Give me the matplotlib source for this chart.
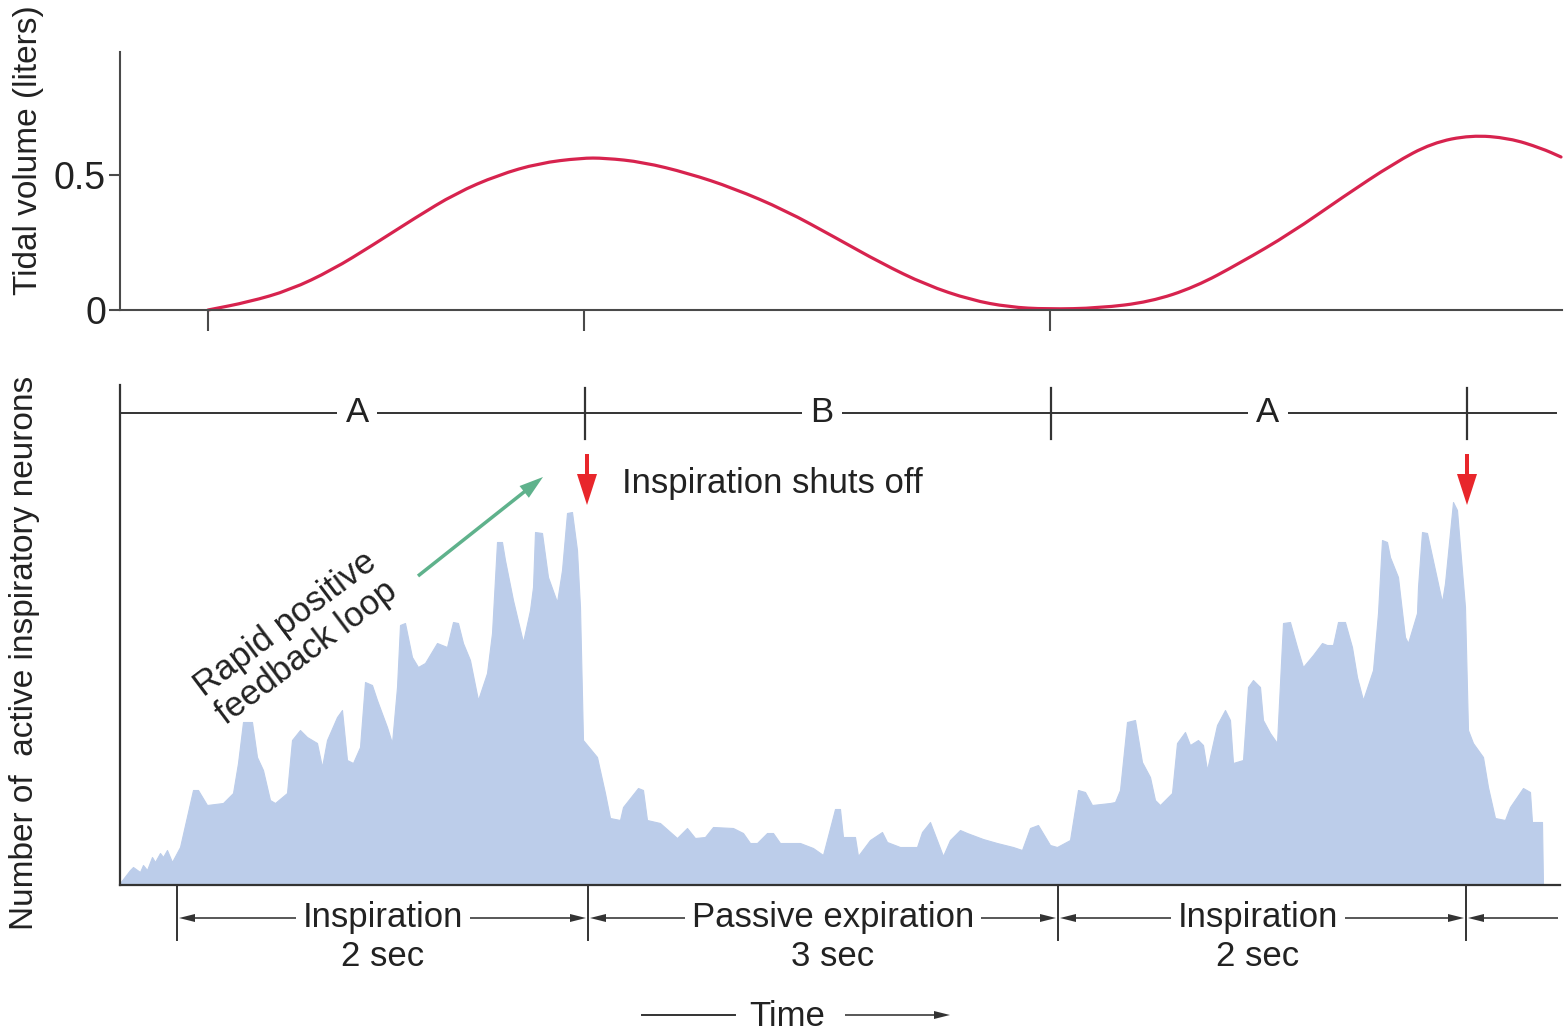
import matplotlib
matplotlib.use('Agg')
import matplotlib.pyplot as plt
from matplotlib.path import Path
from matplotlib.patches import PathPatch

plt.rcParams['font.family'] = ['Liberation Sans', 'DejaVu Sans']

# tidal volume curve (x in arbitrary time units, y in liters)
vol_x = [208, 249, 290, 332, 373, 415, 456, 498, 539, 581, 605, 643, 688, 733, 785,
         836, 881, 926, 971, 1009, 1047, 1099, 1150, 1195, 1240, 1291, 1343, 1394,
         1432, 1471, 1509, 1541, 1561]
vol_y = [0.0, 0.030, 0.074, 0.148, 0.241, 0.341, 0.433, 0.500, 0.544, 0.563, 0.563,
         0.548, 0.507, 0.452, 0.370, 0.267, 0.174, 0.093, 0.037, 0.011, 0.003, 0.007,
         0.030, 0.085, 0.174, 0.285, 0.419, 0.544, 0.619, 0.648, 0.637, 0.600, 0.567]
vol_ticks = [0, 0.5]
vol_tick_labels = ['0', '0.5']
top_xticks = [208, 584, 1050]

# number of active inspiratory neurons (arbitrary units)
neu_x = [120, 130, 133, 140, 143, 147, 152, 155, 160, 163, 167, 172, 180, 193, 198,
         207, 223, 233, 238, 243, 252, 257, 263, 270, 275, 287, 292, 300, 307, 317,
         322, 327, 337, 342, 347, 353, 360, 365, 372, 377, 387, 392, 397, 400, 405,
         412, 418, 425, 437, 447, 453, 458, 463, 470, 478, 487, 492, 497, 502, 505,
         513, 523, 530, 533, 535, 542, 548, 557, 562, 567, 572, 577, 580, 583, 597,
         605, 610, 620, 623, 638, 643, 647, 660, 677, 687, 695, 705, 713, 733, 743,
         750, 757, 767, 773, 780, 800, 813, 823, 835, 840, 843, 855, 858, 870, 882,
         887, 900, 917, 922, 930, 943, 950, 960, 967, 983, 997, 1013, 1022, 1030,
         1038, 1050, 1057, 1070, 1078, 1085, 1092, 1110, 1115, 1120, 1127, 1135,
         1142, 1150, 1155, 1160, 1172, 1177, 1185, 1190, 1198, 1203, 1207, 1217,
         1225, 1230, 1233, 1243, 1248, 1253, 1260, 1263, 1270, 1277, 1283, 1290,
         1297, 1303, 1313, 1322, 1327, 1333, 1338, 1345, 1352, 1357, 1363, 1373,
         1378, 1382, 1387, 1390, 1398, 1405, 1408, 1417, 1418, 1422, 1427, 1442,
         1445, 1453, 1457, 1465, 1468, 1473, 1483, 1488, 1495, 1505, 1510, 1523,
         1530, 1532, 1542, 1543]
neu_y = [2, 15, 18, 13, 20, 15, 28, 23, 32, 28, 35, 23, 38, 95, 95,
         80, 82, 92, 122, 163, 163, 128, 115, 85, 82, 92, 145, 155, 148, 142,
         118, 145, 168, 175, 125, 122, 138, 203, 200, 185, 158, 142, 198, 260, 262,
         228, 218, 222, 242, 238, 263, 262, 242, 225, 185, 212, 252, 343, 343, 325,
         285, 243, 275, 298, 353, 352, 308, 283, 315, 372, 373, 335, 278, 145, 128,
         92, 67, 65, 78, 97, 95, 65, 62, 47, 57, 47, 48, 58, 57, 52,
         42, 42, 52, 52, 42, 42, 37, 30, 76, 76, 48, 48, 29, 45, 53,
         43, 38, 38, 53, 63, 29, 45, 55, 52, 46, 42, 38, 35, 57,
         60, 40, 38, 45, 95, 93, 80, 82, 83, 95, 163, 165,
         123, 108, 85, 80, 92, 142, 153, 140, 145, 140, 115, 160,
         175, 165, 122, 125, 198, 205, 198, 165, 152, 142, 262, 263,
         238, 218, 230, 242, 240, 240, 263, 263, 238, 208, 185, 215,
         272, 345, 343, 328, 308, 248, 242, 272, 298, 353, 352, 283,
         302, 383, 375, 278, 155, 142, 128, 98, 67, 65, 78, 97,
         93, 63, 63, 0]

cycle_ticks = [585, 1051, 1467]
cycle_labels = ['A', 'B', 'A']
cycle_label_x = [357, 822, 1268]
shutoff_x = [587, 1467]

phase_edges = [177, 588, 1058, 1466]
phase_names = ['Inspiration', 'Passive expiration', 'Inspiration']
phase_durations = ['2 sec', '3 sec', '2 sec']
phase_label_x = [383, 833, 1258]


def smooth_path(xs, ys):
    # quadratic bezier through midpoints, read points act as control points
    pts = list(zip(xs, ys))
    verts = [pts[0], ((pts[0][0] + pts[1][0]) / 2, (pts[0][1] + pts[1][1]) / 2)]
    codes = [Path.MOVETO, Path.LINETO]
    for i in range(1, len(pts) - 1):
        mid = ((pts[i][0] + pts[i + 1][0]) / 2, (pts[i][1] + pts[i + 1][1]) / 2)
        verts += [pts[i], mid]
        codes += [Path.CURVE3, Path.CURVE3]
    verts.append(pts[-1])
    codes.append(Path.LINETO)
    return Path(verts, codes)


W, H = 1566, 1031
fig = plt.figure(figsize=(W / 100, H / 100), dpi=100)

axis_col = '#4a4a4a'
text_col = '#222222'
fs = 25

# ---- top panel: tidal volume
ax1 = fig.add_axes([120 / W, (H - 310) / H, 1442 / W, 258 / H])
ax1.add_patch(PathPatch(smooth_path(vol_x, vol_y), fc='none', ec='#d7234e', lw=2.3,
                        capstyle='round', clip_on=False))
ax1.set_xlim(120, 1562)
ax1.set_ylim(0, 0.956)
ax1.set_yticks(vol_ticks)
ax1.set_yticklabels(vol_tick_labels)
ax1.set_xticks(top_xticks)
ax1.set_xticklabels([])
ax1.tick_params(axis='y', direction='out', length=8, width=1.5, color=axis_col,
                pad=2, labelsize=27, labelcolor=text_col)
ax1.tick_params(axis='x', direction='out', length=15, width=1.5, color=axis_col)
for s in ['top', 'right']:
    ax1.spines[s].set_visible(False)
for s in ['left', 'bottom']:
    ax1.spines[s].set_color(axis_col)
    ax1.spines[s].set_linewidth(1.5)

# ---- bottom panel: inspiratory neurons
ax2 = fig.add_axes([120 / W, (H - 885) / H, 1440 / W, 500 / H])
ax2.fill_between(neu_x, 0, neu_y, color='#bccdea', lw=0.8, edgecolor='#bccdea')
ax2.set_xlim(120, 1560)
ax2.set_ylim(0, 500)
ax2.set_xticks([])
ax2.set_yticks([])
for s in ['top', 'right']:
    ax2.spines[s].set_visible(False)
for s in ['left', 'bottom']:
    ax2.spines[s].set_color('#333333')
    ax2.spines[s].set_linewidth(1.6)

# cycle bracket A / B / A
ax2.plot([120, 1556], [472, 472], color='#333333', lw=1.4)
for x in cycle_ticks:
    ax2.plot([x, x], [446, 497], color='#333333', lw=1.6)
for x, lab in zip(cycle_label_x, cycle_labels):
    ax2.text(x, 472, lab, ha='center', va='center', fontsize=fs, color=text_col,
             bbox=dict(fc='white', ec='none', pad=6))

# inspiration shuts off
for x in shutoff_x:
    ax2.arrow(x, 431, 0, -51, width=4, head_width=20, head_length=31,
              length_includes_head=True, color='#e8262b', lw=0)
ax2.text(622, 401, 'Inspiration shuts off', ha='left', va='center',
         fontsize=fs, color=text_col)

# rapid positive feedback
ax2.arrow(418, 309, 125, 99, width=3.5, head_width=15, head_length=24,
          length_includes_head=True, color='#5fb28c', lw=0)
ax2.text(296, 247, 'Rapid positive\nfeedback loop', rotation=37, ha='center',
         va='center', rotation_mode='anchor', multialignment='center',
         linespacing=1.1, fontsize=fs, color=text_col)

# phase durations below the axis
for x in phase_edges:
    ax2.plot([x, x], [0, -55], color='#333333', lw=1.4, clip_on=False)
for i, (name, dur, xc) in enumerate(zip(phase_names, phase_durations, phase_label_x)):
    left, right = phase_edges[i], phase_edges[i + 1]
    for end in (left + 2, right - 2):
        ax2.arrow(xc, -33, end - xc, 0, width=1.6, head_width=8, head_length=16,
                  length_includes_head=True, color='#333333', lw=0, clip_on=False)
    ax2.text(xc, -33, name, ha='center', va='center', fontsize=fs, color=text_col,
             bbox=dict(fc='white', ec='none', pad=5), zorder=5, clip_on=False)
    ax2.text(xc, -72, dur, ha='center', va='center', fontsize=fs, color=text_col,
             clip_on=False)
ax2.arrow(1558, -33, 1468 - 1558, 0, width=1.6, head_width=8, head_length=16,
          length_includes_head=True, color='#333333', lw=0, clip_on=False)

# time axis label
ax2.plot([642, 735], [-130, -130], color='#333333', lw=1.4, clip_on=False)
ax2.arrow(845, -130, 105, 0, width=1.6, head_width=8, head_length=16,
          length_includes_head=True, color='#333333', lw=0, clip_on=False)
ax2.text(787, -132, 'Time', ha='center', va='center', fontsize=fs, color=text_col,
         clip_on=False)

# y labels
fig.text(29 / W, 1 - 150 / H, 'Tidal volume (liters)', rotation=90, ha='center',
         va='center', fontsize=24, color=text_col)
fig.text(25 / W, 1 - 653 / H, 'Number of  active inspiratory neurons', rotation=90,
         ha='center', va='center', fontsize=24, color=text_col)

fig.savefig('out.png', dpi=100)
